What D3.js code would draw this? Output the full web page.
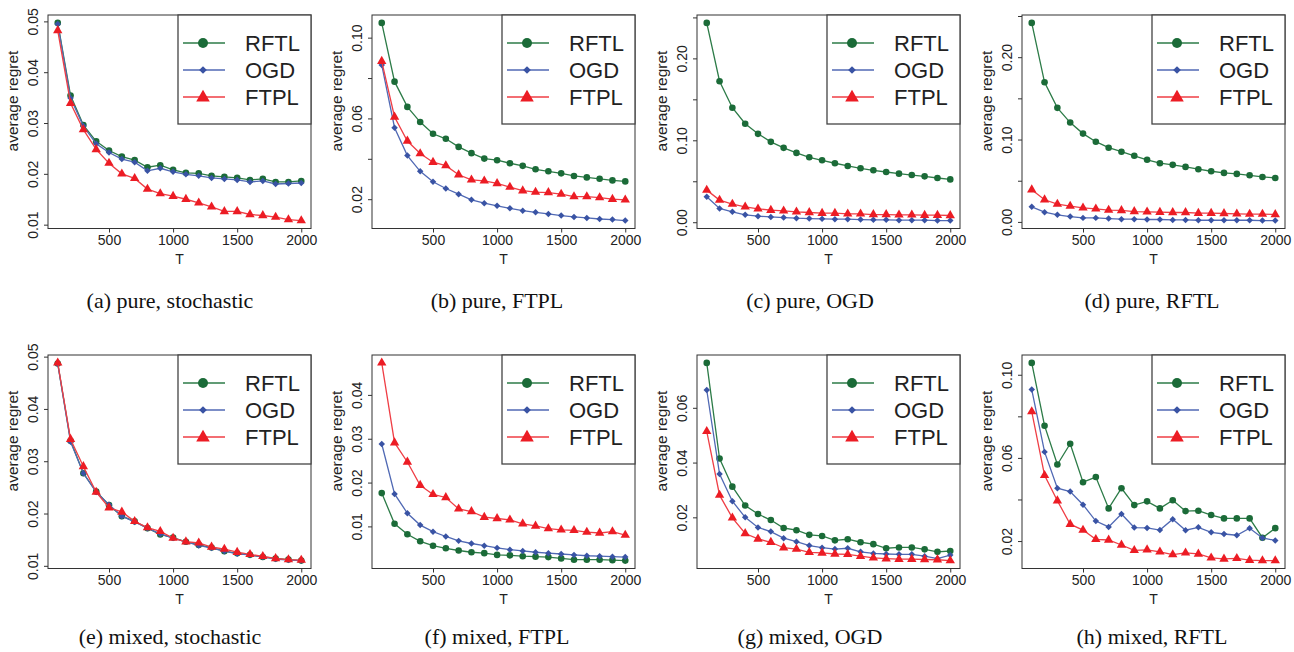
<!DOCTYPE html>
<html>
<head>
<meta charset="utf-8">
<script src="https://cdn.jsdelivr.net/npm/d3@7"></script>
<style>
  body { margin: 0; background: #fff; }
  svg { display: block; }
  .tick text { font-family: "Liberation Sans", Arial, sans-serif; fill: #222; }
  .tick line { stroke: #333; }
</style>
</head>
<body>
<svg id="chart"></svg>
<script>
// horizon T on the x axis
const T = [100, 200, 300, 400, 500, 600, 700, 800, 900, 1000,
           1100, 1200, 1300, 1400, 1500, 1600, 1700, 1800, 1900, 2000];
const seriesNames = ["RFTL", "OGD", "FTPL"];
const xTicks = [500, 1000, 1500, 2000];

const captions = ["(a) pure, stochastic", "(b) pure, FTPL", "(c) pure, OGD", "(d) pure, RFTL",
                  "(e) mixed, stochastic", "(f) mixed, FTPL", "(g) mixed, OGD", "(h) mixed, RFTL"];

// (a) pure, stochastic
const aRFTL = [0.0497, 0.0354, 0.0296, 0.0264, 0.0246, 0.0234, 0.0227, 0.0213, 0.0217, 0.0208,
               0.0202, 0.0201, 0.0196, 0.0194, 0.0192, 0.0188, 0.0190, 0.0184, 0.0184, 0.0186];
const aOGD  = [0.0495, 0.0349, 0.0294, 0.0259, 0.0242, 0.0229, 0.0223, 0.0206, 0.0211, 0.0204,
               0.0199, 0.0196, 0.0192, 0.0190, 0.0188, 0.0184, 0.0186, 0.0180, 0.0181, 0.0182];
const aFTPL = [0.0482, 0.0339, 0.0287, 0.0248, 0.0221, 0.0200, 0.0191, 0.0170, 0.0161, 0.0156,
               0.0150, 0.0143, 0.0135, 0.0126, 0.0126, 0.0120, 0.0118, 0.0115, 0.0110, 0.0108];
// (b) pure, FTPL
const bRFTL = [0.1073, 0.0782, 0.0657, 0.0582, 0.0524, 0.0499, 0.0459, 0.0428, 0.0401, 0.0393,
               0.0378, 0.0365, 0.0348, 0.0338, 0.0328, 0.0315, 0.0308, 0.0301, 0.0293, 0.0288];
const bOGD  = [0.0865, 0.0554, 0.0416, 0.0338, 0.0286, 0.0253, 0.0225, 0.0197, 0.0180, 0.0167,
               0.0155, 0.0143, 0.0135, 0.0127, 0.0119, 0.0112, 0.0107, 0.0102, 0.0099, 0.0094];
const bFTPL = [0.0883, 0.0607, 0.0488, 0.0426, 0.0383, 0.0366, 0.0321, 0.0296, 0.0291, 0.0278,
               0.0260, 0.0242, 0.0235, 0.0233, 0.0225, 0.0213, 0.0213, 0.0208, 0.0200, 0.0197];
// (c) pure, OGD
const cRFTL = [0.2433, 0.1721, 0.1398, 0.1202, 0.1079, 0.0981, 0.0908, 0.0846, 0.0793, 0.0756,
               0.0720, 0.0687, 0.0658, 0.0634, 0.0613, 0.0593, 0.0576, 0.0560, 0.0540, 0.0523];
const cOGD  = [0.0311, 0.0168, 0.0127, 0.0090, 0.0074, 0.0065, 0.0057, 0.0049, 0.0045, 0.0041,
               0.0037, 0.0037, 0.0033, 0.0029, 0.0029, 0.0025, 0.0025, 0.0025, 0.0020, 0.0020];
const cFTPL = [0.0392, 0.0270, 0.0221, 0.0188, 0.0164, 0.0147, 0.0139, 0.0127, 0.0119, 0.0110,
               0.0110, 0.0102, 0.0102, 0.0094, 0.0094, 0.0090, 0.0090, 0.0086, 0.0086, 0.0082];
// (d) pure, RFTL
const dRFTL = [0.2416, 0.1695, 0.1385, 0.1206, 0.1072, 0.0974, 0.0901, 0.0852, 0.0803, 0.0754,
               0.0713, 0.0693, 0.0668, 0.0640, 0.0615, 0.0595, 0.0583, 0.0566, 0.0546, 0.0534];
const dOGD  = [0.0183, 0.0118, 0.0086, 0.0065, 0.0049, 0.0049, 0.0041, 0.0033, 0.0033, 0.0029,
               0.0029, 0.0024, 0.0024, 0.0020, 0.0020, 0.0020, 0.0020, 0.0020, 0.0016, 0.0016];
const dFTPL = [0.0391, 0.0269, 0.0216, 0.0192, 0.0171, 0.0159, 0.0143, 0.0139, 0.0126, 0.0122,
               0.0118, 0.0114, 0.0114, 0.0106, 0.0106, 0.0102, 0.0098, 0.0094, 0.0094, 0.0090];
// (e) mixed, stochastic
const eRFTL = [0.0487, 0.0339, 0.0277, 0.0242, 0.0216, 0.0195, 0.0185, 0.0172, 0.0160, 0.0154,
               0.0146, 0.0140, 0.0135, 0.0128, 0.0124, 0.0121, 0.0117, 0.0114, 0.0112, 0.0110];
const eOGD  = [0.0486, 0.0337, 0.0277, 0.0241, 0.0217, 0.0195, 0.0184, 0.0172, 0.0161, 0.0153,
               0.0146, 0.0139, 0.0134, 0.0128, 0.0123, 0.0121, 0.0117, 0.0113, 0.0111, 0.0110];
const eFTPL = [0.0488, 0.0342, 0.0290, 0.0241, 0.0211, 0.0203, 0.0185, 0.0173, 0.0166, 0.0153,
               0.0146, 0.0144, 0.0136, 0.0132, 0.0126, 0.0122, 0.0118, 0.0114, 0.0112, 0.0111];
// (f) mixed, FTPL
const fRFTL = [0.0176, 0.0106, 0.0082, 0.0066, 0.0056, 0.0050, 0.0045, 0.0041, 0.0039, 0.0035,
               0.0034, 0.0032, 0.0031, 0.0030, 0.0027, 0.0024, 0.0024, 0.0024, 0.0023, 0.0022];
const fOGD  = [0.0288, 0.0174, 0.0130, 0.0103, 0.0088, 0.0077, 0.0067, 0.0061, 0.0056, 0.0051,
               0.0047, 0.0044, 0.0041, 0.0039, 0.0037, 0.0035, 0.0033, 0.0032, 0.0031, 0.0030];
const fFTPL = [0.0473, 0.0291, 0.0247, 0.0194, 0.0173, 0.0166, 0.0140, 0.0134, 0.0121, 0.0118,
               0.0115, 0.0106, 0.0101, 0.0095, 0.0092, 0.0091, 0.0087, 0.0085, 0.0088, 0.0080];
// (g) mixed, OGD
const gRFTL = [0.0764, 0.0415, 0.0312, 0.0243, 0.0212, 0.0190, 0.0161, 0.0153, 0.0136, 0.0132,
               0.0116, 0.0120, 0.0109, 0.0102, 0.0087, 0.0090, 0.0090, 0.0083, 0.0074, 0.0077];
const gOGD  = [0.0665, 0.0358, 0.0259, 0.0200, 0.0163, 0.0148, 0.0124, 0.0111, 0.0097, 0.0089,
               0.0084, 0.0087, 0.0074, 0.0068, 0.0066, 0.0065, 0.0065, 0.0058, 0.0049, 0.0062];
const gFTPL = [0.0514, 0.0281, 0.0198, 0.0141, 0.0121, 0.0109, 0.0089, 0.0084, 0.0072, 0.0070,
               0.0066, 0.0065, 0.0058, 0.0052, 0.0049, 0.0047, 0.0047, 0.0046, 0.0045, 0.0042];
// (h) mixed, RFTL
const hRFTL = [0.1057, 0.0755, 0.0568, 0.0668, 0.0483, 0.0508, 0.0357, 0.0454, 0.0373, 0.0391,
               0.0357, 0.0396, 0.0344, 0.0346, 0.0325, 0.0309, 0.0309, 0.0309, 0.0216, 0.0262];
const hOGD  = [0.0929, 0.0629, 0.0454, 0.0438, 0.0375, 0.0296, 0.0268, 0.0330, 0.0265, 0.0263,
               0.0253, 0.0305, 0.0252, 0.0266, 0.0242, 0.0234, 0.0228, 0.0262, 0.0215, 0.0203];
const hFTPL = [0.0823, 0.0516, 0.0394, 0.0281, 0.0253, 0.0208, 0.0205, 0.0181, 0.0155, 0.0158,
               0.0148, 0.0135, 0.0143, 0.0138, 0.0119, 0.0114, 0.0117, 0.0108, 0.0106, 0.0106];

// y ticks (R drops labels that would overlap, so some ticks are unlabeled)
const yTicksA = [0.01, 0.02, 0.03, 0.04, 0.05];
const yLabelsA = ["0.01", "0.02", "0.03", "0.04", "0.05"];
const yTicksB = [0.02, 0.04, 0.06, 0.08, 0.10];
const yLabelsB = ["0.02", "", "0.06", "", "0.10"];
const yTicksC = [0.00, 0.05, 0.10, 0.15, 0.20, 0.25];
const yLabelsC = ["0.00", "", "0.10", "", "0.20", ""];
const yTicksF = [0.01, 0.02, 0.03, 0.04];
const yLabelsF = ["0.01", "0.02", "0.03", "0.04"];
const yTicksG = [0.02, 0.04, 0.06];
const yLabelsG = ["0.02", "0.04", "0.06"];

const panels = [
  { data: [aRFTL, aOGD, aFTPL], ticks: yTicksA, labels: yLabelsA },
  { data: [bRFTL, bOGD, bFTPL], ticks: yTicksB, labels: yLabelsB },
  { data: [cRFTL, cOGD, cFTPL], ticks: yTicksC, labels: yLabelsC },
  { data: [dRFTL, dOGD, dFTPL], ticks: yTicksC, labels: yLabelsC },
  { data: [eRFTL, eOGD, eFTPL], ticks: yTicksA, labels: yLabelsA },
  { data: [fRFTL, fOGD, fFTPL], ticks: yTicksF, labels: yLabelsF },
  { data: [gRFTL, gOGD, gFTPL], ticks: yTicksG, labels: yLabelsG },
  { data: [hRFTL, hOGD, hFTPL], ticks: yTicksB, labels: yLabelsB }
];

// look
const markColor = ["#1b6b38", "#3953a4", "#ec1c24"];
const lineColor = ["#2c7b47", "#5069b4", "#ef3e45"];

// layout
const W = 1294, H = 652;
const colLeft = [48, 372, 697, 1022];
const rowTop = [15, 355];
const pw = 263, ph = 213.5;
const captionX = [170, 497, 810, 1152];
const captionY = [308, 644];

const svg = d3.select("#chart").attr("width", W).attr("height", H);

function marker(g, k, cx, cy, big) {
  if (k === 0) {
    g.append("circle").attr("cx", cx).attr("cy", cy).attr("r", big ? 5 : 3.3)
      .attr("fill", markColor[0]);
  } else if (k === 1) {
    g.append("path").attr("d", d3.symbol(d3.symbolSquare, big ? 30 : 21)())
      .attr("transform", "translate(" + cx + "," + cy + ")rotate(45)")
      .attr("fill", markColor[1]);
  } else {
    g.append("path").attr("d", d3.symbol(d3.symbolTriangle, big ? 80 : 38)())
      .attr("transform", "translate(" + cx + "," + (cy + (big ? 0.5 : 0)) + ")")
      .attr("fill", markColor[2]);
  }
}

panels.forEach(function(p, i) {
  const col = i % 4, row = Math.floor(i / 4);
  const g = svg.append("g")
    .attr("transform", "translate(" + colLeft[col] + "," + rowTop[row] + ")");

  // R style: data range stretched by 4% on each side
  const xe = d3.extent(T), xp = (xe[1] - xe[0]) * 0.04;
  const x = d3.scaleLinear().domain([xe[0] - xp, xe[1] + xp]).range([0, pw]);
  const ye = d3.extent(p.data.flat()), yp = (ye[1] - ye[0]) * 0.04;
  const y = d3.scaleLinear().domain([ye[0] - yp, ye[1] + yp]).range([ph, 0]);

  // x axis
  const xa = g.append("g").attr("transform", "translate(0," + ph + ")")
    .call(d3.axisBottom(x).tickValues(xTicks).tickSize(4).tickFormat(d3.format("d")));
  xa.select(".domain").remove();
  xa.selectAll("text").attr("y", 16.5).attr("dy", 0).style("font-size", "14px");

  // y axis, labels turned like R's las=0
  const ya = g.append("g")
    .call(d3.axisLeft(y).tickValues(p.ticks).tickSize(4)
      .tickFormat(function(d, j) { return p.labels[j]; }));
  ya.select(".domain").remove();
  ya.selectAll("text")
    .attr("transform", "rotate(-90)")
    .attr("x", 0).attr("y", -10.5).attr("dy", 0)
    .attr("text-anchor", "middle")
    .style("font-size", "14px");

  g.append("text")
    .attr("transform", "translate(-30," + 86 + ")rotate(-90)")
    .attr("text-anchor", "middle")
    .style("font-family", "Liberation Sans, Arial, sans-serif")
    .style("font-size", "15.5px").attr("fill", "#222")
    .text("average regret");

  g.append("text")
    .attr("x", pw / 2).attr("y", ph + 35.5)
    .attr("text-anchor", "middle")
    .style("font-family", "Liberation Sans, Arial, sans-serif")
    .style("font-size", "14px").attr("fill", "#222")
    .text("T");

  // series
  p.data.forEach(function(vals, k) {
    const line = d3.line()
      .x(function(d, j) { return x(T[j]); })
      .y(function(d) { return y(d); });
    g.append("path").datum(vals)
      .attr("d", line)
      .attr("fill", "none")
      .attr("stroke", lineColor[k])
      .attr("stroke-width", 1.3);
    vals.forEach(function(v, j) { marker(g, k, x(T[j]), y(v), false); });
  });

  // frame
  g.append("rect").attr("width", pw).attr("height", ph)
    .attr("fill", "none").attr("stroke", "#333").attr("stroke-width", 1);

  // legend top right
  const lw = 133, lh = 109;
  const lg = g.append("g").attr("transform", "translate(" + (pw - lw) + ",0)");
  lg.append("rect").attr("width", lw).attr("height", lh)
    .attr("fill", "#fff").attr("stroke", "#444").attr("stroke-width", 1.3);
  seriesNames.forEach(function(name, k) {
    const ly = 28 + k * 27;
    lg.append("line").attr("x1", 5).attr("x2", 47).attr("y1", ly).attr("y2", ly)
      .attr("stroke", lineColor[k]).attr("stroke-width", 1.3);
    marker(lg, k, 25, ly, true);
    lg.append("text").attr("x", 67).attr("y", ly + 8)
      .style("font-family", "Liberation Sans, Arial, sans-serif")
      .style("font-size", "22px").attr("fill", "#222")
      .text(name);
  });

  svg.append("text")
    .attr("x", captionX[col]).attr("y", captionY[row])
    .attr("text-anchor", "middle")
    .style("font-family", "Liberation Serif, Times New Roman, serif")
    .style("font-size", "22px").attr("fill", "#111")
    .text(captions[i]);
});
</script>
</body>
</html>
